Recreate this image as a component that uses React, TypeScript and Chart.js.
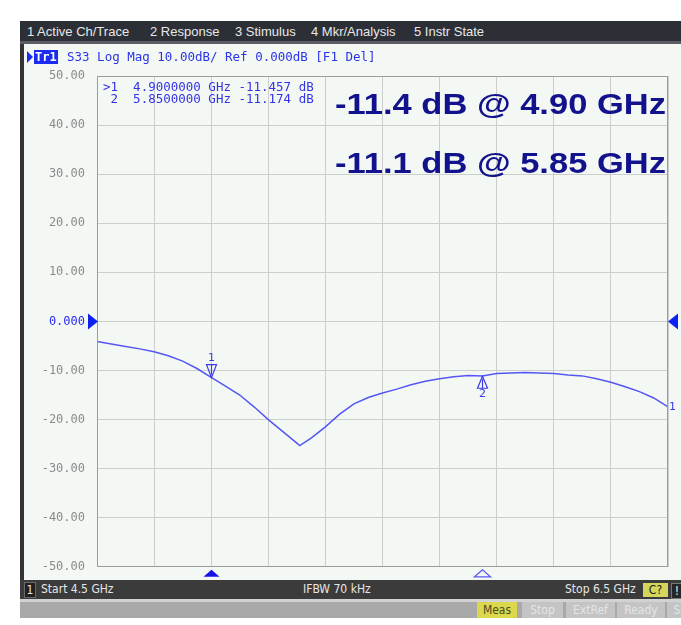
import React, { useEffect, useRef } from "react";
import { Chart, registerables } from "chart.js";

Chart.register(...registerables);

// ---- data ----
const freqGHz = [
  4.5, 4.55, 4.6, 4.65, 4.7, 4.75, 4.8, 4.85, 4.9, 4.95, 5.0, 5.05, 5.1, 5.15, 5.2, 5.21,
  5.25, 5.3, 5.35, 5.4, 5.45, 5.5, 5.55, 5.6, 5.65, 5.7, 5.75, 5.8, 5.85, 5.9, 5.95, 6.0,
  6.05, 6.1, 6.15, 6.2, 6.25, 6.3, 6.35, 6.4, 6.45, 6.5,
];
const s33dB = [
  -4.1, -4.6, -5.1, -5.6, -6.2, -7.0, -8.1, -9.6, -11.4, -13.2, -15.0, -17.4, -20.0, -22.4, -24.8, -25.3,
  -23.8, -21.5, -18.9, -16.8, -15.5, -14.6, -13.8, -12.9, -12.2, -11.7, -11.3, -11.0, -11.1, -10.6, -10.5, -10.4,
  -10.5, -10.6, -10.9, -11.1, -11.7, -12.4, -13.3, -14.3, -15.6, -17.4,
];
const markerNames = ["1", "2"];
const markerFreqGHz = [4.9, 5.85];
const markerDB = [-11.457, -11.174];
const yMin = -50;
const yMax = 50;
const yStep = 10;
const xStart = 4.5;
const xStop = 6.5;
const xStep = 0.2;
const menuItems = ["1 Active Ch/Trace", "2 Response", "3 Stimulus", "4 Mkr/Analysis", "5 Instr State"];
const traceTitle = "S33 Log Mag 10.00dB/ Ref 0.000dB [F1 Del]";
const markerTable = [
  ">1  4.9000000 GHz -11.457 dB",
  " 2  5.8500000 GHz -11.174 dB",
];
const annotations = ["-11.4 dB @ 4.90 GHz", "-11.1 dB @ 5.85 GHz"];
const softkeys = ["Meas", "Stop", "ExtRef", "Ready", "S"];

const TRACE = "#5656f2";

const vnaDecor = {
  id: "vnaDecor",
  afterDatasetsDraw(chart: any) {
    const { ctx, chartArea: a, scales } = chart;
    const x = scales.x;
    const y = scales.y;
    ctx.save();
    // plot frame
    ctx.strokeStyle = "#9c9c9c";
    ctx.lineWidth = 1;
    ctx.strokeRect(Math.round(a.left) + 0.5, Math.round(a.top) + 0.5, Math.round(a.right - a.left) - 1, Math.round(a.bottom - a.top) - 1);

    // reference triangles
    const y0 = y.getPixelForValue(0);
    ctx.fillStyle = "#0b22f2";
    ctx.beginPath();
    ctx.moveTo(a.left - 9, y0 - 8);
    ctx.lineTo(a.left + 1, y0);
    ctx.lineTo(a.left - 9, y0 + 8);
    ctx.closePath();
    ctx.fill();
    ctx.beginPath();
    ctx.moveTo(a.right + 10, y0 - 8);
    ctx.lineTo(a.right, y0);
    ctx.lineTo(a.right + 10, y0 + 8);
    ctx.closePath();
    ctx.fill();

    // markers on trace
    ctx.font = "11px 'DejaVu Sans'";
    ctx.textAlign = "center";
    ctx.textBaseline = "middle";
    markerFreqGHz.forEach((f, i) => {
      const px = Math.round(x.getPixelForValue(f)) + 0.5;
      const py = y.getPixelForValue(markerDB[i]);
      ctx.strokeStyle = "#3a3ae8";
      ctx.fillStyle = "#3a3ae8";
      ctx.lineWidth = 1.2;
      if (i === 0) {
        ctx.beginPath();
        ctx.moveTo(px - 5, py - 13);
        ctx.lineTo(px + 5, py - 13);
        ctx.lineTo(px, py);
        ctx.closePath();
        ctx.stroke();
        ctx.beginPath();
        ctx.moveTo(px, py - 13);
        ctx.lineTo(px, py - 3);
        ctx.stroke();
        ctx.fillText(markerNames[i], px, py - 19);
      } else {
        ctx.beginPath();
        ctx.moveTo(px, py);
        ctx.lineTo(px - 5, py + 12);
        ctx.lineTo(px + 5, py + 12);
        ctx.closePath();
        ctx.stroke();
        ctx.beginPath();
        ctx.moveTo(px, py + 3);
        ctx.lineTo(px, py + 12);
        ctx.stroke();
        ctx.fillText(markerNames[i], px, py + 18);
      }
      // stimulus markers below the grid
      ctx.beginPath();
      ctx.moveTo(px, a.bottom + 3);
      ctx.lineTo(px - 8, a.bottom + 10);
      ctx.lineTo(px + 8, a.bottom + 10);
      ctx.closePath();
      if (i === 0) {
        ctx.fillStyle = "#1414e6";
        ctx.fill();
      } else {
        ctx.strokeStyle = "#5a5af0";
        ctx.lineWidth = 1.3;
        ctx.stroke();
      }
    });

    // trace number at right end
    const lastY = y.getPixelForValue(s33dB[s33dB.length - 1]);
    ctx.fillStyle = "#3a3ae8";
    ctx.textAlign = "left";
    ctx.fillText("1", a.right + 1, lastY);
    ctx.restore();
  },
};

function PlotCanvas() {
  const ref = useRef<HTMLCanvasElement | null>(null);
  useEffect(() => {
    if (!ref.current) return;
    const chart = new Chart(ref.current, {
      type: "line",
      data: {
        datasets: [
          {
            label: "S33",
            data: freqGHz.map((f, i) => ({ x: f, y: s33dB[i] })),
            borderColor: TRACE,
            borderWidth: 1.5,
            pointRadius: 0,
            tension: 0,
            fill: false,
          },
        ],
      },
      options: {
        responsive: false,
        animation: false,
        events: [],
        layout: { padding: { top: 33, right: 13, bottom: 7, left: 0 } },
        plugins: { legend: { display: false }, tooltip: { enabled: false }, title: { display: false } },
        scales: {
          x: {
            type: "linear",
            min: xStart,
            max: xStop,
            ticks: { display: false, stepSize: xStep },
            grid: { color: "#cdcdcd", lineWidth: 1, drawTicks: false },
            border: { display: false },
            afterFit: (s: any) => {
              s.height = 0;
            },
          },
          y: {
            type: "linear",
            min: yMin,
            max: yMax,
            ticks: {
              stepSize: yStep,
              padding: 12,
              font: { family: "'DejaVu Sans Mono'", size: 12 },
              color: (c: any) => (c.tick && c.tick.value === 0 ? "#2a2af0" : "#8a8a8a"),
              callback: (v: any) => (Number(v) === 0 ? "0.000" : Number(v).toFixed(2)),
            },
            grid: { color: "#cdcdcd", lineWidth: 1, drawTicks: false },
            border: { display: false },
            afterFit: (s: any) => {
              s.width = 73;
            },
          },
        },
      },
      plugins: [vnaDecor],
    } as any);
    return () => chart.destroy();
  }, []);
  return <canvas ref={ref} width={657} height={543} style={{ position: "absolute", left: 24, top: 43, display: "block" }} />;
}

const menuFont = "'DejaVu Sans Condensed', 'DejaVu Sans', sans-serif";
const topMenuFont = "'Liberation Sans', Arial, sans-serif";

export default function App() {
  const menuX = [27, 150, 235, 311, 414];
  const keyPos = [
    { l: 477, w: 40 },
    { l: 522, w: 41 },
    { l: 566, w: 49 },
    { l: 617, w: 48 },
    { l: 667, w: 20 },
  ];
  return (
    <div style={{ position: "fixed", left: 0, top: 0, width: 681, height: 625, background: "#ffffff", overflow: "hidden" }}>
      {/* menu bar */}
      <div style={{ position: "absolute", left: 20, top: 21, width: 661, height: 22, background: "#2c2f36" }} />
      <div style={{ position: "absolute", left: 20, top: 41, width: 661, height: 3, background: "#5a5d63" }} />
      {menuItems.map((m, i) => (
        <div key={m} style={{ position: "absolute", left: menuX[i], top: 24, font: `13px ${topMenuFont}`, color: "#e8e8e8", whiteSpace: "pre", lineHeight: "16px" }}>
          {m}
        </div>
      ))}

      {/* panel */}
      <div style={{ position: "absolute", left: 20, top: 44, width: 661, height: 536, background: "#f4f8f5" }} />
      <div style={{ position: "absolute", left: 20, top: 44, width: 4, height: 556, background: "#343434" }} />
      <PlotCanvas />

      {/* trace title */}
      <div style={{ position: "absolute", left: 27, top: 51, width: 0, height: 0, borderTop: "6px solid transparent", borderBottom: "6px solid transparent", borderLeft: "6px solid #1a2cf0" }} />
      <div style={{ position: "absolute", left: 34, top: 50, height: 14, background: "#1a2cf0", color: "#ffffff", font: "bold 12px 'DejaVu Sans Mono'", lineHeight: "14px", padding: "0 1px" }}>
        Tr1
      </div>
      <div style={{ position: "absolute", left: 67, top: 50, color: "#2a34e6", font: "12.5px 'DejaVu Sans Mono'", lineHeight: "14px", whiteSpace: "pre" }}>
        {traceTitle}
      </div>

      {/* marker table */}
      <div style={{ position: "absolute", left: 103, top: 81, color: "#3434e6", font: "12.5px 'DejaVu Sans Mono'", lineHeight: "12px", whiteSpace: "pre" }}>
        {markerTable.map((r) => (
          <div key={r}>{r}</div>
        ))}
      </div>

      {/* annotations */}
      {annotations.map((t, i) => (
        <div
          key={t}
          style={{
            position: "absolute",
            left: 335,
            top: i === 0 ? 90 : 149,
            color: "#12128c",
            font: "bold 29px 'Liberation Sans', Arial, sans-serif",
            lineHeight: "29px",
            whiteSpace: "pre",
            transform: "scaleX(1.19)",
            transformOrigin: "0 0",
          }}
        >
          {t}
        </div>
      ))}

      {/* status bar */}
      <div style={{ position: "absolute", left: 20, top: 580, width: 661, height: 19, background: "#3b3b3b" }} />
      <div style={{ position: "absolute", left: 24, top: 582, width: 10, height: 14, background: "#202020", border: "1px solid #6a6a6a", color: "#e6e6e6", font: `12px ${menuFont}`, lineHeight: "14px", textAlign: "center" }}>
        1
      </div>
      <div style={{ position: "absolute", left: 41, top: 582, color: "#e6e6e6", font: `12px ${menuFont}`, lineHeight: "15px", whiteSpace: "pre" }}>Start 4.5 GHz</div>
      <div style={{ position: "absolute", left: 303, top: 582, color: "#e6e6e6", font: `12px ${menuFont}`, lineHeight: "15px", whiteSpace: "pre" }}>IFBW 70 kHz</div>
      <div style={{ position: "absolute", left: 565, top: 582, color: "#e6e6e6", font: `12px ${menuFont}`, lineHeight: "15px", whiteSpace: "pre" }}>Stop 6.5 GHz</div>
      <div style={{ position: "absolute", left: 643, top: 583, width: 25, height: 14, background: "#d6d65c", color: "#202020", font: `12px ${menuFont}`, lineHeight: "14px", textAlign: "center" }}>C?</div>
      <div style={{ position: "absolute", left: 671, top: 583, width: 10, height: 14, background: "#262626", border: "1px solid #777", color: "#eeeeee", font: `12px ${menuFont}`, lineHeight: "14px", textAlign: "center" }}>!</div>

      {/* softkey strip */}
      <div style={{ position: "absolute", left: 20, top: 599, width: 661, height: 3, background: "#d2d2d2" }} />
      <div style={{ position: "absolute", left: 20, top: 602, width: 661, height: 16, background: "#a9a9a9" }} />
      {softkeys.map((k, i) => (
        <div
          key={k}
          style={{
            position: "absolute",
            left: keyPos[i].l,
            top: 602,
            width: keyPos[i].w,
            height: 16,
            background: i === 0 ? "#dcd84e" : "#c4c4c4",
            color: i === 0 ? "#4a4a20" : "#e4e4e4",
            font: `12px ${menuFont}`,
            lineHeight: "16px",
            textAlign: "center",
            overflow: "hidden",
            whiteSpace: "pre",
          }}
        >
          {k}
        </div>
      ))}
    </div>
  );
}
